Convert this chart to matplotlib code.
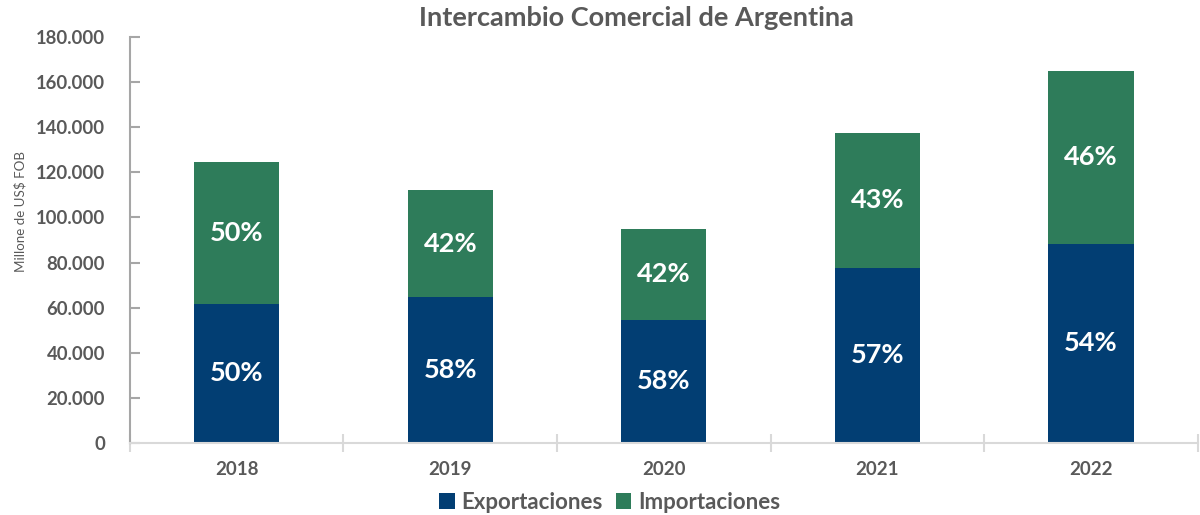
import matplotlib.pyplot as plt
import numpy as np
from matplotlib.ticker import FuncFormatter, FixedLocator

plt.rcParams['font.family'] = ['Lato', 'DejaVu Sans']

#Data (millones de US$ FOB)
years = ['2018', '2019', '2020', '2021', '2022']
exportaciones = [61800, 64800, 54700, 77700, 88300]
importaciones = [62800, 47300, 40300, 59700, 76600]
pct_exp = ['50%', '58%', '58%', '57%', '54%']
pct_imp = ['50%', '42%', '42%', '43%', '46%']

#Colours
c_exp = '#023e73'
c_imp = '#2e7c5a'
c_txt = '#595959'

fig = plt.figure(figsize=(12, 5.15), dpi=100, facecolor='w')
ax = fig.add_axes([0.1083, 0.1398, 0.8897, 0.7883])

x = np.arange(len(years))
w = 0.40
b1 = ax.bar(x, exportaciones, w, color=c_exp, label='Exportaciones', zorder=2)
b2 = ax.bar(x, importaciones, w, bottom=exportaciones, color=c_imp, label='Importaciones', zorder=2)

#Percentage labels in the middle of each segment
for i in range(len(years)):
  ax.text(x[i], exportaciones[i]/2., pct_exp[i], ha='center', va='center',
          color='white', fontsize=19.5, fontweight='bold')
  ax.text(x[i], exportaciones[i] + importaciones[i]/2., pct_imp[i], ha='center', va='center',
          color='white', fontsize=19.5, fontweight='bold')

ax.set_xlim(-0.5, len(years) - 0.5)
ax.set_ylim(0, 180000)
ax.set_yticks(np.arange(0, 180001, 20000))
ax.yaxis.set_major_formatter(FuncFormatter(lambda v, p: '{:,.0f}'.format(v).replace(',', '.')))
ax.set_xticks(x)
ax.set_xticklabels(years)

#Category separator ticks on x axis
ax.xaxis.set_minor_locator(FixedLocator(np.arange(-0.5, len(years), 1.0)))
ax.tick_params(axis='x', which='major', length=0, pad=13, labelsize=13.5, labelcolor=c_txt)
ax.tick_params(axis='x', which='minor', length=13, width=1.5, color='#d9d9d9', direction='inout')
ax.tick_params(axis='y', which='major', length=7, width=1.5, color='#a6a6a6', direction='in',
               labelsize=13.3, labelcolor=c_txt, pad=18)
for lab in ax.get_xticklabels() + ax.get_yticklabels():
  lab.set_fontweight('bold')

for s in ['top', 'right']:
  ax.spines[s].set_visible(False)
ax.spines['left'].set_color('#a6a6a6')
ax.spines['left'].set_linewidth(1.5)
ax.spines['bottom'].set_color('#d9d9d9')
ax.spines['bottom'].set_linewidth(1.5)

ax.set_ylabel('Millone de US$ FOB', fontsize=9.6, color=c_txt)
ax.yaxis.set_label_coords(-0.097, 0.571)
fig.text(0.53, 0.965, 'Intercambio Comercial de Argentina', ha='center', va='center',
         fontsize=19.5, fontweight='bold', color=c_txt)

leg = fig.legend(loc='lower center', bbox_to_anchor=(0.508, -0.035), ncol=2, frameon=False,
                 fontsize=16, handlelength=0.7, handleheight=0.7, handletextpad=0.3, columnspacing=0.6)
for t in leg.get_texts():
  t.set_color(c_txt)
  t.set_fontweight('bold')

plt.savefig('out.png', dpi=100)
